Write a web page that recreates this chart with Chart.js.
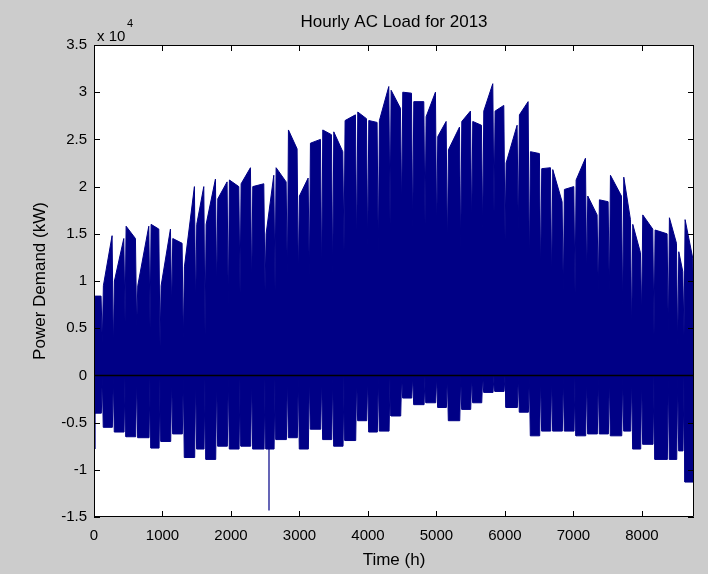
<!DOCTYPE html>
<html>
<head>
<meta charset="utf-8">
<script src="https://cdn.jsdelivr.net/npm/chart.js@4.4.0/dist/chart.umd.min.js"></script>
<style>
  html, body { margin: 0; padding: 0; background: #cccccc; }
  canvas { display: block; }
</style>
</head>
<body>
<canvas id="chart" width="708" height="574"></canvas>
<script>
// Hour of each weekend / holiday dip
const dipHours = [121, 282, 453, 623, 818, 964, 1134, 1304, 1484, 1621, 1791, 1961, 2132,
  2302, 2497, 2643, 2823, 2983, 3144, 3324, 3485, 3650, 3835, 3996, 4151, 4322, 4492,
  4653, 4833, 5003, 5159, 5354, 5514, 5675, 5840, 6001, 6195, 6356, 6521, 6682, 6852,
  7023, 7193, 7363, 7524, 7719, 7850, 7996, 8176, 8385, 8522, 8614];

// Load at the bottom of each dip (kW)
const dipLoads = [3300, 2600, 5700, 5000, 5000, 3100, 7000, 3500, 7000, 4300, 8700, 7000,
  8700, 9000, 9000, 9000, 10000, 10100, 10000, 10000, 10100, 13100, 13100, 13100, 12600,
  16000, 17400, 15000, 16000, 14700, 13300, 13100, 15400, 15000, 17200, 14400, 15000,
  11200, 10500, 9600, 8600, 8700, 10000, 8700, 8400, 6800, 4200, 6300, 4200, 4200, 2700, 4200];

// Peak load at the start and at the end of each weekday block (kW)
const blockStart = [8400, 9500, 10000, 15800, 9500, 16000, 9500, 14500, 11500, 16000, 16000,
  18700, 20700, 20300, 20000, 15000, 22000, 26000, 19000, 24600, 26000, 25800, 27000, 27900,
  27000, 27000, 30200, 30000, 29000, 27400, 25300, 23900, 26900, 26900, 28000, 28000, 22500,
  27600, 23700, 21900, 21800, 19700, 20700, 19000, 18600, 21200, 21000, 16000, 17000, 15400,
  16700, 13100, 16500];
const blockEnd = [8400, 14800, 14500, 14500, 15800, 15500, 15500, 14000, 20000, 20000, 20800,
  20500, 20000, 22000, 20300, 21200, 20500, 24000, 20900, 25000, 25500, 23700, 27600, 27200,
  26800, 30600, 28300, 29900, 29000, 30000, 26900, 26300, 28000, 26500, 30900, 28600, 26500,
  29000, 23500, 22000, 18400, 20000, 23000, 17000, 18400, 19000, 16500, 13000, 15500, 15000,
  14000, 11000, 12400];

// Deepest negative load in each weekday block (kW)
const blockLow = [-4000, -5500, -6000, -6500, -6600, -7700, -7000, -6200, -8700, -7800, -8900,
  -7500, -7800, -7500, -7800, -7800, -6800, -6600, -7800, -5700, -6800, -7500, -6900, -4800,
  -6000, -5900, -4300, -2400, -3100, -2900, -3400, -4800, -3600, -2900, -1800, -1700, -3400,
  -3900, -6400, -5900, -5900, -5900, -6400, -6200, -6200, -6400, -5900, -7800, -7300, -8900,
  -8900, -8000, -11300];

// Load at the first and last hour of the year (kW)
const startLoad = 5200;
const endLoad = 4700;

// Isolated single-hour spikes
const spikeHours = [15, 2555];
const spikeLoads = [-7800, -14300];

const xTicks = [0, 1000, 2000, 3000, 4000, 5000, 6000, 7000, 8000];
const yTicks = [-15000, -10000, -5000, 0, 5000, 10000, 15000, 20000, 25000, 30000, 35000];
const hoursInYear = 8760;

const navy = '#000086';
const font = "'Liberation Sans', Arial, sans-serif";

// upper envelope: weekday blocks separated by dips
const upper = [{ x: 0, y: startLoad }];
for (let w = 0; w < blockStart.length; w++) {
  const from = w === 0 ? 0 : dipHours[w - 1];
  const to = w < dipHours.length ? dipHours[w] : hoursInYear;
  upper.push({ x: from + 16, y: blockStart[w] });
  upper.push({ x: to - 18, y: blockEnd[w] });
  if (w < dipHours.length) upper.push({ x: to, y: dipLoads[w] });
}
upper.push({ x: hoursInYear, y: endLoad });

// lower envelope: negative blocks, back to zero at each dip
const lower = [{ x: 0, y: 0 }];
for (let w = 0; w < blockLow.length; w++) {
  const from = w === 0 ? 0 : dipHours[w - 1];
  const to = w < dipHours.length ? dipHours[w] : hoursInYear;
  lower.push({ x: from + 14, y: blockLow[w] });
  lower.push({ x: to - 14, y: blockLow[w] });
  lower.push({ x: to, y: w < dipHours.length ? 0 : blockLow[w] });
}

const spikes = [];
spikeHours.forEach((h, i) => {
  spikes.push({ x: h, y: 0 }, { x: h, y: spikeLoads[i] }, { x: h, y: null });
});

// MATLAB style frame: white axes, box, inward ticks, zero line, title
const matlabFrame = {
  id: 'matlabFrame',
  beforeDatasetsDraw(chart) {
    const { ctx, chartArea: a } = chart;
    ctx.save();
    ctx.fillStyle = '#ffffff';
    ctx.fillRect(a.left, a.top, a.right - a.left, a.bottom - a.top);
    ctx.restore();
  },
  afterDatasetsDraw(chart) {
    const { ctx, chartArea: a, scales } = chart;
    ctx.save();
    ctx.strokeStyle = '#000000';
    ctx.lineWidth = 1.5;
    const y0 = Math.round(scales.y.getPixelForValue(0)) + 0.5;
    ctx.beginPath();
    ctx.moveTo(a.left, y0);
    ctx.lineTo(a.right, y0);
    ctx.stroke();

    ctx.lineWidth = 1;
    ctx.beginPath();
    ctx.rect(a.left + 0.5, a.top + 0.5, a.right - a.left - 1, a.bottom - a.top - 1);
    xTicks.forEach(v => {
      const px = Math.round(scales.x.getPixelForValue(v)) + 0.5;
      ctx.moveTo(px, a.bottom); ctx.lineTo(px, a.bottom - 6);
      ctx.moveTo(px, a.top); ctx.lineTo(px, a.top + 6);
    });
    yTicks.forEach(v => {
      const py = Math.round(scales.y.getPixelForValue(v)) + 0.5;
      ctx.moveTo(a.left, py); ctx.lineTo(a.left + 6, py);
      ctx.moveTo(a.right, py); ctx.lineTo(a.right - 6, py);
    });
    ctx.stroke();
    ctx.restore();
  },
  afterDraw(chart) {
    const { ctx, chartArea: a } = chart;
    ctx.save();
    ctx.fillStyle = '#000000';
    ctx.textBaseline = 'middle';
    ctx.textAlign = 'center';
    ctx.font = '17px ' + font;
    ctx.fillText('Hourly AC Load for 2013', (a.left + a.right) / 2, 22);
    ctx.textAlign = 'left';
    ctx.font = '15px ' + font;
    ctx.fillText('x 10', a.left + 3, 37);
    ctx.font = '11px ' + font;
    ctx.fillText('4', a.left + 33, 24);
    ctx.restore();
  }
};

new Chart(document.getElementById('chart'), {
  type: 'line',
  data: {
    datasets: [
      {
        data: upper,
        borderColor: navy,
        backgroundColor: navy,
        borderWidth: 1,
        fill: 'origin',
        pointRadius: 0,
        tension: 0
      },
      {
        data: lower,
        borderColor: navy,
        backgroundColor: navy,
        borderWidth: 1,
        fill: 'origin',
        pointRadius: 0,
        tension: 0
      },
      {
        data: spikes,
        borderColor: navy,
        borderWidth: 1.2,
        fill: false,
        pointRadius: 0,
        spanGaps: false
      }
    ]
  },
  options: {
    responsive: false,
    animation: false,
    devicePixelRatio: 1,
    layout: { padding: { top: 45, right: 14, bottom: 0, left: 0 } },
    plugins: {
      legend: { display: false },
      tooltip: { enabled: false },
      title: { display: false }
    },
    scales: {
      x: {
        type: 'linear',
        min: 0,
        max: hoursInYear,
        afterFit: s => { s.height = 57; },
        afterBuildTicks: s => { s.ticks = xTicks.map(v => ({ value: v })); },
        grid: { display: false, drawTicks: false },
        border: { display: false },
        ticks: {
          color: '#000000',
          font: { family: font, size: 15 },
          padding: 10,
          maxRotation: 0,
          autoSkip: false,
          callback: v => String(v)
        },
        title: {
          display: true,
          text: 'Time (h)',
          color: '#000000',
          font: { family: font, size: 17 },
          padding: { top: 0, bottom: 3 }
        }
      },
      y: {
        type: 'linear',
        min: -15000,
        max: 35000,
        afterFit: s => { s.width = 94; },
        afterBuildTicks: s => { s.ticks = yTicks.map(v => ({ value: v })); },
        grid: { display: false, drawTicks: false },
        border: { display: false },
        ticks: {
          color: '#000000',
          font: { family: font, size: 15 },
          padding: 7,
          autoSkip: false,
          callback: v => String(v / 10000)
        },
        title: {
          display: true,
          text: 'Power Demand (kW)',
          color: '#000000',
          font: { family: font, size: 17 },
          padding: { top: 30, bottom: 0 }
        }
      }
    }
  },
  plugins: [matlabFrame]
});
</script>
</body>
</html>
